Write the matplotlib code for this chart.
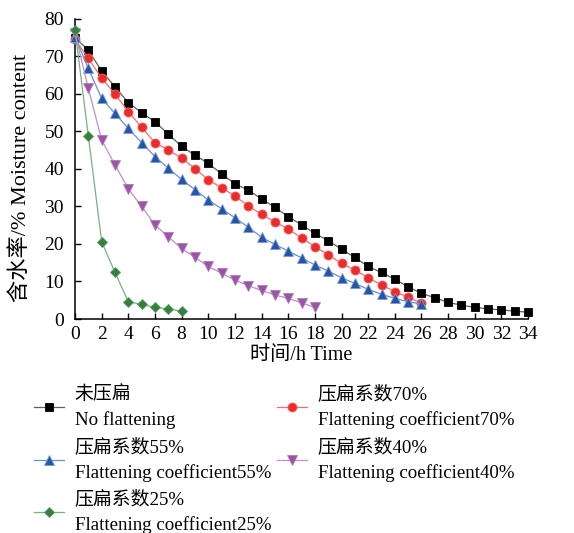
#!/usr/bin/env python3
"""Moisture content vs drying time for different flattening coefficients."""
import numpy as np
import matplotlib
matplotlib.use("Agg")
import matplotlib.pyplot as plt

plt.rcParams["font.family"] = ["Liberation Serif", "Noto Sans CJK SC"]
plt.rcParams["mathtext.fontset"] = "stix"

# values
T_NOFLAT = np.arange(0, 35)
NOFLAT = [75.0, 71.7, 66.1, 61.9, 57.7, 55.0, 52.6, 49.3, 46.0, 43.7, 41.5, 38.7,
          36.0, 34.4, 32.0, 29.8, 27.3, 25.1, 22.8, 20.9, 18.6, 16.4, 14.0, 12.4,
          10.6, 8.6, 6.8, 5.7, 4.4, 3.7, 3.1, 2.7, 2.4, 2.1, 1.8]
T_70 = np.arange(0, 27)
F70 = [74.6, 69.5, 64.2, 60.0, 55.3, 51.1, 47.0, 45.1, 42.9, 40.1, 37.1, 35.0,
       32.8, 30.2, 27.9, 25.9, 24.0, 21.6, 19.3, 17.1, 14.8, 13.1, 11.0, 9.1,
       7.3, 5.8, 4.2]
T_55 = np.arange(0, 27)
F55 = [75.3, 66.8, 58.8, 54.8, 50.8, 47.0, 43.3, 40.2, 37.2, 34.5, 31.7, 29.4,
       27.0, 24.5, 21.8, 19.9, 18.1, 16.3, 14.4, 12.8, 11.0, 9.5, 7.9, 6.6,
       5.5, 4.6, 4.0]
T_40 = np.arange(0, 19)
F40 = [76.2, 61.5, 47.7, 41.1, 34.7, 30.0, 25.1, 21.9, 18.8, 16.4, 14.0, 12.2,
       10.4, 8.9, 7.6, 6.4, 5.5, 4.3, 3.1]
T_25 = np.arange(0, 9)
F25 = [77.1, 48.8, 20.6, 12.4, 4.6, 3.9, 3.1, 2.7, 2.1]

LABELS = ["未压扁\nNo flattening",
          "压扁系数70%\nFlattening coefficient70%",
          "压扁系数55%\nFlattening coefficient55%",
          "压扁系数40%\nFlattening coefficient40%",
          "压扁系数25%\nFlattening coefficient25%"]

# (x, y, marker, size, marker colour, line colour, edge colour)
SERIES = [
    (T_NOFLAT, NOFLAT, "s", 6.0, "#000000", "#606060", "#000000"),
    (T_70, F70, "o", 6.5, "#ee2b2b", "#f07070", "#f06060"),
    (T_55, F55, "^", 7.0, "#2456a8", "#6a8fd0", "#7a9ad8"),
    (T_40, F40, "v", 7.0, "#9b55a6", "#bf8fc8", "#b07ab8"),
    (T_25, F25, "D", 5.5, "#35803f", "#7ab07f", "#5a9a62"),
]


def main():
    fig = plt.figure(figsize=(5.74, 5.33), dpi=100)
    ax = fig.add_axes([0.1307, 0.4015, 0.7893, 0.5629])
    handles = {}
    for (x, y, mk, ms, mc, lc, ec), lab in zip(SERIES, LABELS):
        h, = ax.plot(x, y, color=lc, lw=0.9, marker=mk, ms=ms, mfc=mc, mec=ec,
                     mew=0.6, clip_on=False, zorder=3, label=lab)
        handles[lab] = h

    ax.set_xlim(0, 34); ax.set_ylim(0, 80)
    ax.set_xticks(np.arange(0, 35, 2)); ax.set_yticks(np.arange(0, 81, 10))
    for s in ("top", "right"):
        ax.spines[s].set_visible(False)
    for s in ("left", "bottom"):
        ax.spines[s].set_linewidth(1.1)
    ax.tick_params(direction="in", length=4, width=1.0, labelsize=14)
    ax.tick_params(axis="y", pad=8)
    ax.tick_params(axis="x", pad=5)
    ax.set_xlabel("时间/h Time", fontsize=14.5, labelpad=2)
    ax.set_ylabel("含水率/% Moisture content", fontsize=16)
    ax.yaxis.set_label_coords(-0.098, 0.47)

    order = [LABELS[0], LABELS[2], LABELS[4], LABELS[1], LABELS[3]]
    leg = fig.legend([handles[l] for l in order], order, loc="upper left",
                     bbox_to_anchor=(0.0595, 0.277), ncol=2, frameon=False,
                     fontsize=13.6, handlelength=1.6, handletextpad=0.55,
                     columnspacing=0.3, labelspacing=0.45, borderaxespad=0,
                     borderpad=0)
    for t in leg.get_texts():
        t.set_linespacing(1.6)
    fig.savefig("out.png", dpi=100)
    plt.close(fig)


if __name__ == "__main__":
    main()
